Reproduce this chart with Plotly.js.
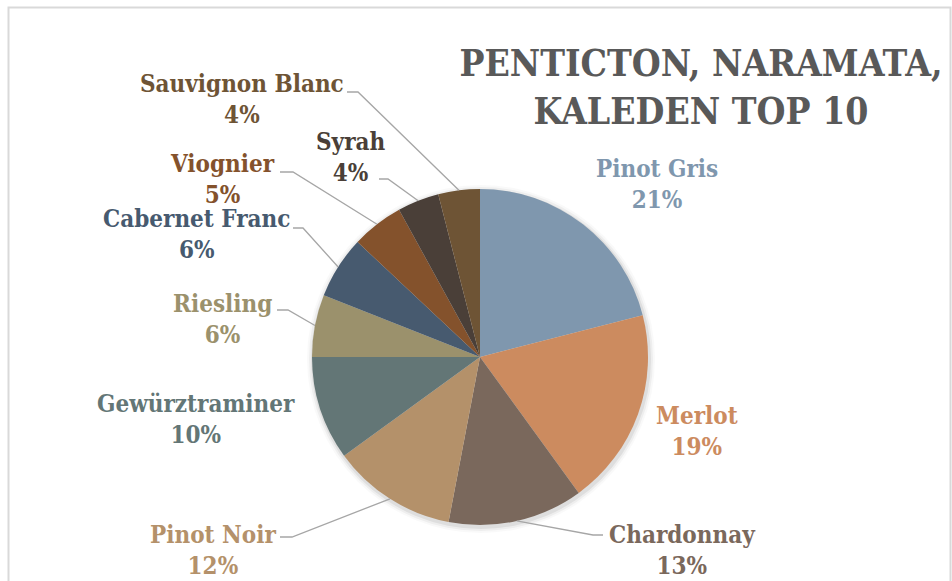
<!DOCTYPE html>
<html>
<head>
<meta charset="utf-8">
<script src="https://cdn.plot.ly/plotly-3.0.1.min.js"></script>
<style>
  html, body { margin: 0; padding: 0; background: #ffffff; }
  #chart { width: 952px; height: 581px; }
</style>
</head>
<body>
<div id="chart"></div>
<script>
// ---- data ----
const varieties = ["Pinot Gris", "Merlot", "Chardonnay", "Pinot Noir", "Gewürztraminer",
                   "Riesling", "Cabernet Franc", "Viognier", "Syrah", "Sauvignon Blanc"];
const shares = [21, 19, 13, 12, 10, 6, 6, 5, 4, 4];
const sliceColors = ["#7f97ae", "#cc8b5f", "#7a685c", "#b4916a", "#637676",
                     "#9b916c", "#475a6f", "#84522c", "#4a3f38", "#6e5435"];
const chartTitle = "PENTICTON, NARAMATA,<br>KALEDEN TOP 10";

// ---- layout constants (pixels) ----
const W = 952, H = 581;
const CX = 480, CY = 357, R = 168;
const FONT = "'DejaVu Serif Condensed', 'DejaVu Serif', serif";
// label block centre (x) and mid (y) in px; leader: [startX, startY, elbowX] or null
const labelLayout = [
  {x: 657, y: 184, leader: null},
  {x: 697, y: 431, leader: null},
  {x: 682, y: 550, leader: [603, 535, 593]},
  {x: 213, y: 550, leader: [280, 537, 292]},
  {x: 196, y: 419, leader: null},
  {x: 222, y: 319, leader: [277, 310, 288]},
  {x: 196, y: 234, leader: [293, 228, 303]},
  {x: 222, y: 179, leader: [280, 172, 293]},
  {x: 351, y: 157, leader: [379, 179, 388]},
  {x: 242, y: 99,  leader: [347, 92, 358]}
];

const px = v => v / W;
const py = v => 1 - v / H;

const total = shares.reduce((a, b) => a + b, 0);
const annotations = [];
const shapes = [];

// chart border
shapes.push({type: "rect", xref: "paper", yref: "paper",
  x0: px(8.5), x1: px(950.5), y0: -0.05, y1: py(7.5),
  line: {color: "#d9d9d9", width: 2}, layer: "below"});

// soft shadow behind pie
[6, 4, 2].forEach((d, i) => {
  shapes.push({type: "circle", xref: "paper", yref: "paper",
    x0: px(CX - R - d + 1), x1: px(CX + R + d + 1), y0: py(CY + R + d + 2), y1: py(CY - R - d + 2),
    line: {width: 0}, fillcolor: "rgba(0,0,0," + (0.025 + i * 0.02) + ")", layer: "below"});
});

let cum = 0;
shares.forEach((v, i) => {
  const mid = (cum + v / 2) / total * 2 * Math.PI;
  cum += v;
  const L = labelLayout[i];
  annotations.push({
    xref: "paper", yref: "paper", x: px(L.x), y: py(L.y),
    xanchor: "center", yanchor: "middle", showarrow: false,
    text: varieties[i] + "<br>" + Math.round(v / total * 100) + "%",
    font: {family: FONT, size: 24, color: sliceColors[i], weight: "bold"}
  });
  if (L.leader) {
    const ex = CX + R * Math.sin(mid), ey = CY - R * Math.cos(mid);
    const [sx, sy, elx] = L.leader;
    shapes.push({type: "path", xref: "paper", yref: "paper",
      path: "M " + px(sx) + " " + py(sy) + " L " + px(elx) + " " + py(sy) + " L " + px(ex) + " " + py(ey),
      line: {color: "#a6a6a6", width: 1.3}});
  }
});

const data = [{
  type: "pie",
  labels: varieties,
  values: shares,
  sort: false,
  direction: "clockwise",
  rotation: 0,
  textinfo: "none",
  hoverinfo: "none",
  marker: {colors: sliceColors, line: {width: 0}},
  domain: {x: [px(CX - R), px(CX + R)], y: [py(CY + R), py(CY - R)]},
  showlegend: false
}];

const layout = {
  width: W, height: H,
  margin: {l: 0, r: 0, t: 0, b: 0},
  paper_bgcolor: "#ffffff",
  showlegend: false,
  title: {
    text: chartTitle,
    x: px(701), xanchor: "center", xref: "paper",
    y: py(76), yanchor: "middle", yref: "paper",
    font: {family: FONT, size: 37, color: "#595959", weight: "bold"}
  },
  annotations: annotations,
  shapes: shapes
};

Plotly.newPlot("chart", data, layout, {displayModeBar: false, staticPlot: true});
</script>
</body>
</html>
